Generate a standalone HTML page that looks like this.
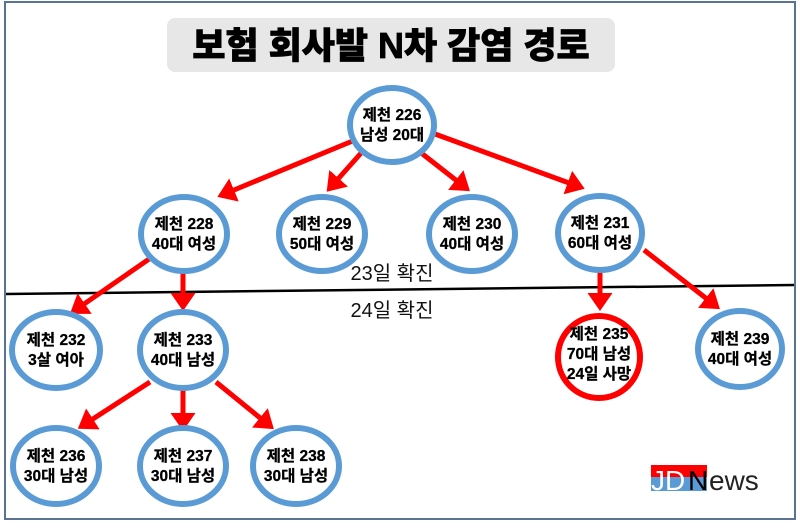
<!DOCTYPE html>
<html><head><meta charset="utf-8"><style>
html,body{margin:0;padding:0;background:#fff}
svg{display:block}
text{font-family:"Liberation Sans","Noto Sans CJK KR",sans-serif}
</style></head><body>
<svg width="800" height="528" viewBox="0 0 800 528" xmlns="http://www.w3.org/2000/svg">
<defs>
<marker id="a" markerWidth="5" markerHeight="5" refX="2.6" refY="2.5" orient="auto" markerUnits="strokeWidth">
<path d="M0,0 L3.6,2.5 L0,5 Z" fill="#ff0000"/></marker>
</defs>
<rect x="0" y="0" width="800" height="528" fill="#fff"/>
<rect x="5" y="2" width="790" height="517" fill="none" stroke="#5a7392" stroke-width="2"/>
<rect x="167" y="18" width="448" height="54" rx="8" fill="#e7e7e7"/>
<text x="391" y="58" text-anchor="middle" font-size="36" font-weight="900" fill="#000" stroke="#000" stroke-width="0.8">보험 회사발 N차 감염 경로</text>
<line x1="6" y1="294" x2="794" y2="285" stroke="#000" stroke-width="2.5"/>
<text x="392" y="280" text-anchor="middle" font-size="20" fill="#111">23일 확진</text>
<text x="392" y="317" text-anchor="middle" font-size="20" fill="#111">24일 확진</text>
<g stroke="#ff0000" stroke-width="5" marker-end="url(#a)">
<line x1="355" y1="140" x2="222" y2="195"/>
<line x1="362" y1="152" x2="330" y2="188"/>
<line x1="420" y1="152" x2="466" y2="188"/>
<line x1="435" y1="134" x2="580" y2="187"/>
<line x1="152" y1="257" x2="74" y2="311"/>
<line x1="183" y1="268" x2="183" y2="306"/>
<line x1="600" y1="268" x2="600" y2="306"/>
<line x1="644" y1="250" x2="716" y2="306"/>
<line x1="150" y1="382" x2="82" y2="426"/>
<line x1="183" y1="388" x2="183" y2="426"/>
<line x1="216" y1="382" x2="270" y2="426"/>
</g>
<g fill="#fff" stroke="#5b9bd5" stroke-width="6">
<ellipse cx="392" cy="125" rx="42" ry="37"/>
<ellipse cx="184" cy="234" rx="43" ry="37"/>
<ellipse cx="322" cy="234" rx="43" ry="37"/>
<ellipse cx="472" cy="234" rx="43" ry="37"/>
<ellipse cx="600" cy="233" rx="42" ry="37"/>
<ellipse cx="56" cy="350" rx="44" ry="38"/>
<ellipse cx="183" cy="350" rx="43" ry="38"/>
<ellipse cx="740" cy="349" rx="42" ry="38"/>
<ellipse cx="56" cy="466" rx="43" ry="38"/>
<ellipse cx="183" cy="466" rx="43" ry="38"/>
<ellipse cx="296" cy="466" rx="43" ry="38"/>
<ellipse cx="599" cy="357" rx="41" ry="41" stroke="#ff0000"/>
</g>
<g font-size="15.5" font-weight="bold" text-anchor="middle" fill="#000" stroke="#000" stroke-width="0.3">
<text x="392" y="120">제천 226</text><text x="392" y="140">남성 20대</text>
<text x="184" y="229">제천 228</text><text x="184" y="249">40대 여성</text>
<text x="322" y="229">제천 229</text><text x="322" y="249">50대 여성</text>
<text x="472" y="229">제천 230</text><text x="472" y="249">40대 여성</text>
<text x="600" y="228">제천 231</text><text x="600" y="248">60대 여성</text>
<text x="56" y="345">제천 232</text><text x="56" y="365">3살 여아</text>
<text x="183" y="345">제천 233</text><text x="183" y="365">40대 남성</text>
<text x="740" y="344">제천 239</text><text x="740" y="364">40대 여성</text>
<text x="599" y="339">제천 235</text><text x="599" y="359">70대 남성</text><text x="599" y="379">24일 사망</text>
<text x="56" y="461">제천 236</text><text x="56" y="481">30대 남성</text>
<text x="183" y="461">제천 237</text><text x="183" y="481">30대 남성</text>
<text x="296" y="461">제천 238</text><text x="296" y="481">30대 남성</text>
</g>
<rect x="651" y="465" width="56" height="12" fill="#ff0000"/>
<rect x="651" y="477" width="56" height="14" fill="#5b9bd5"/>
<text x="651" y="490" font-size="28" fill="#fff">JD</text>
<text x="688" y="490" font-size="28" fill="#000">N</text>
<text x="709" y="490" font-size="28" fill="#222">ews</text>
</svg>
</body></html>
